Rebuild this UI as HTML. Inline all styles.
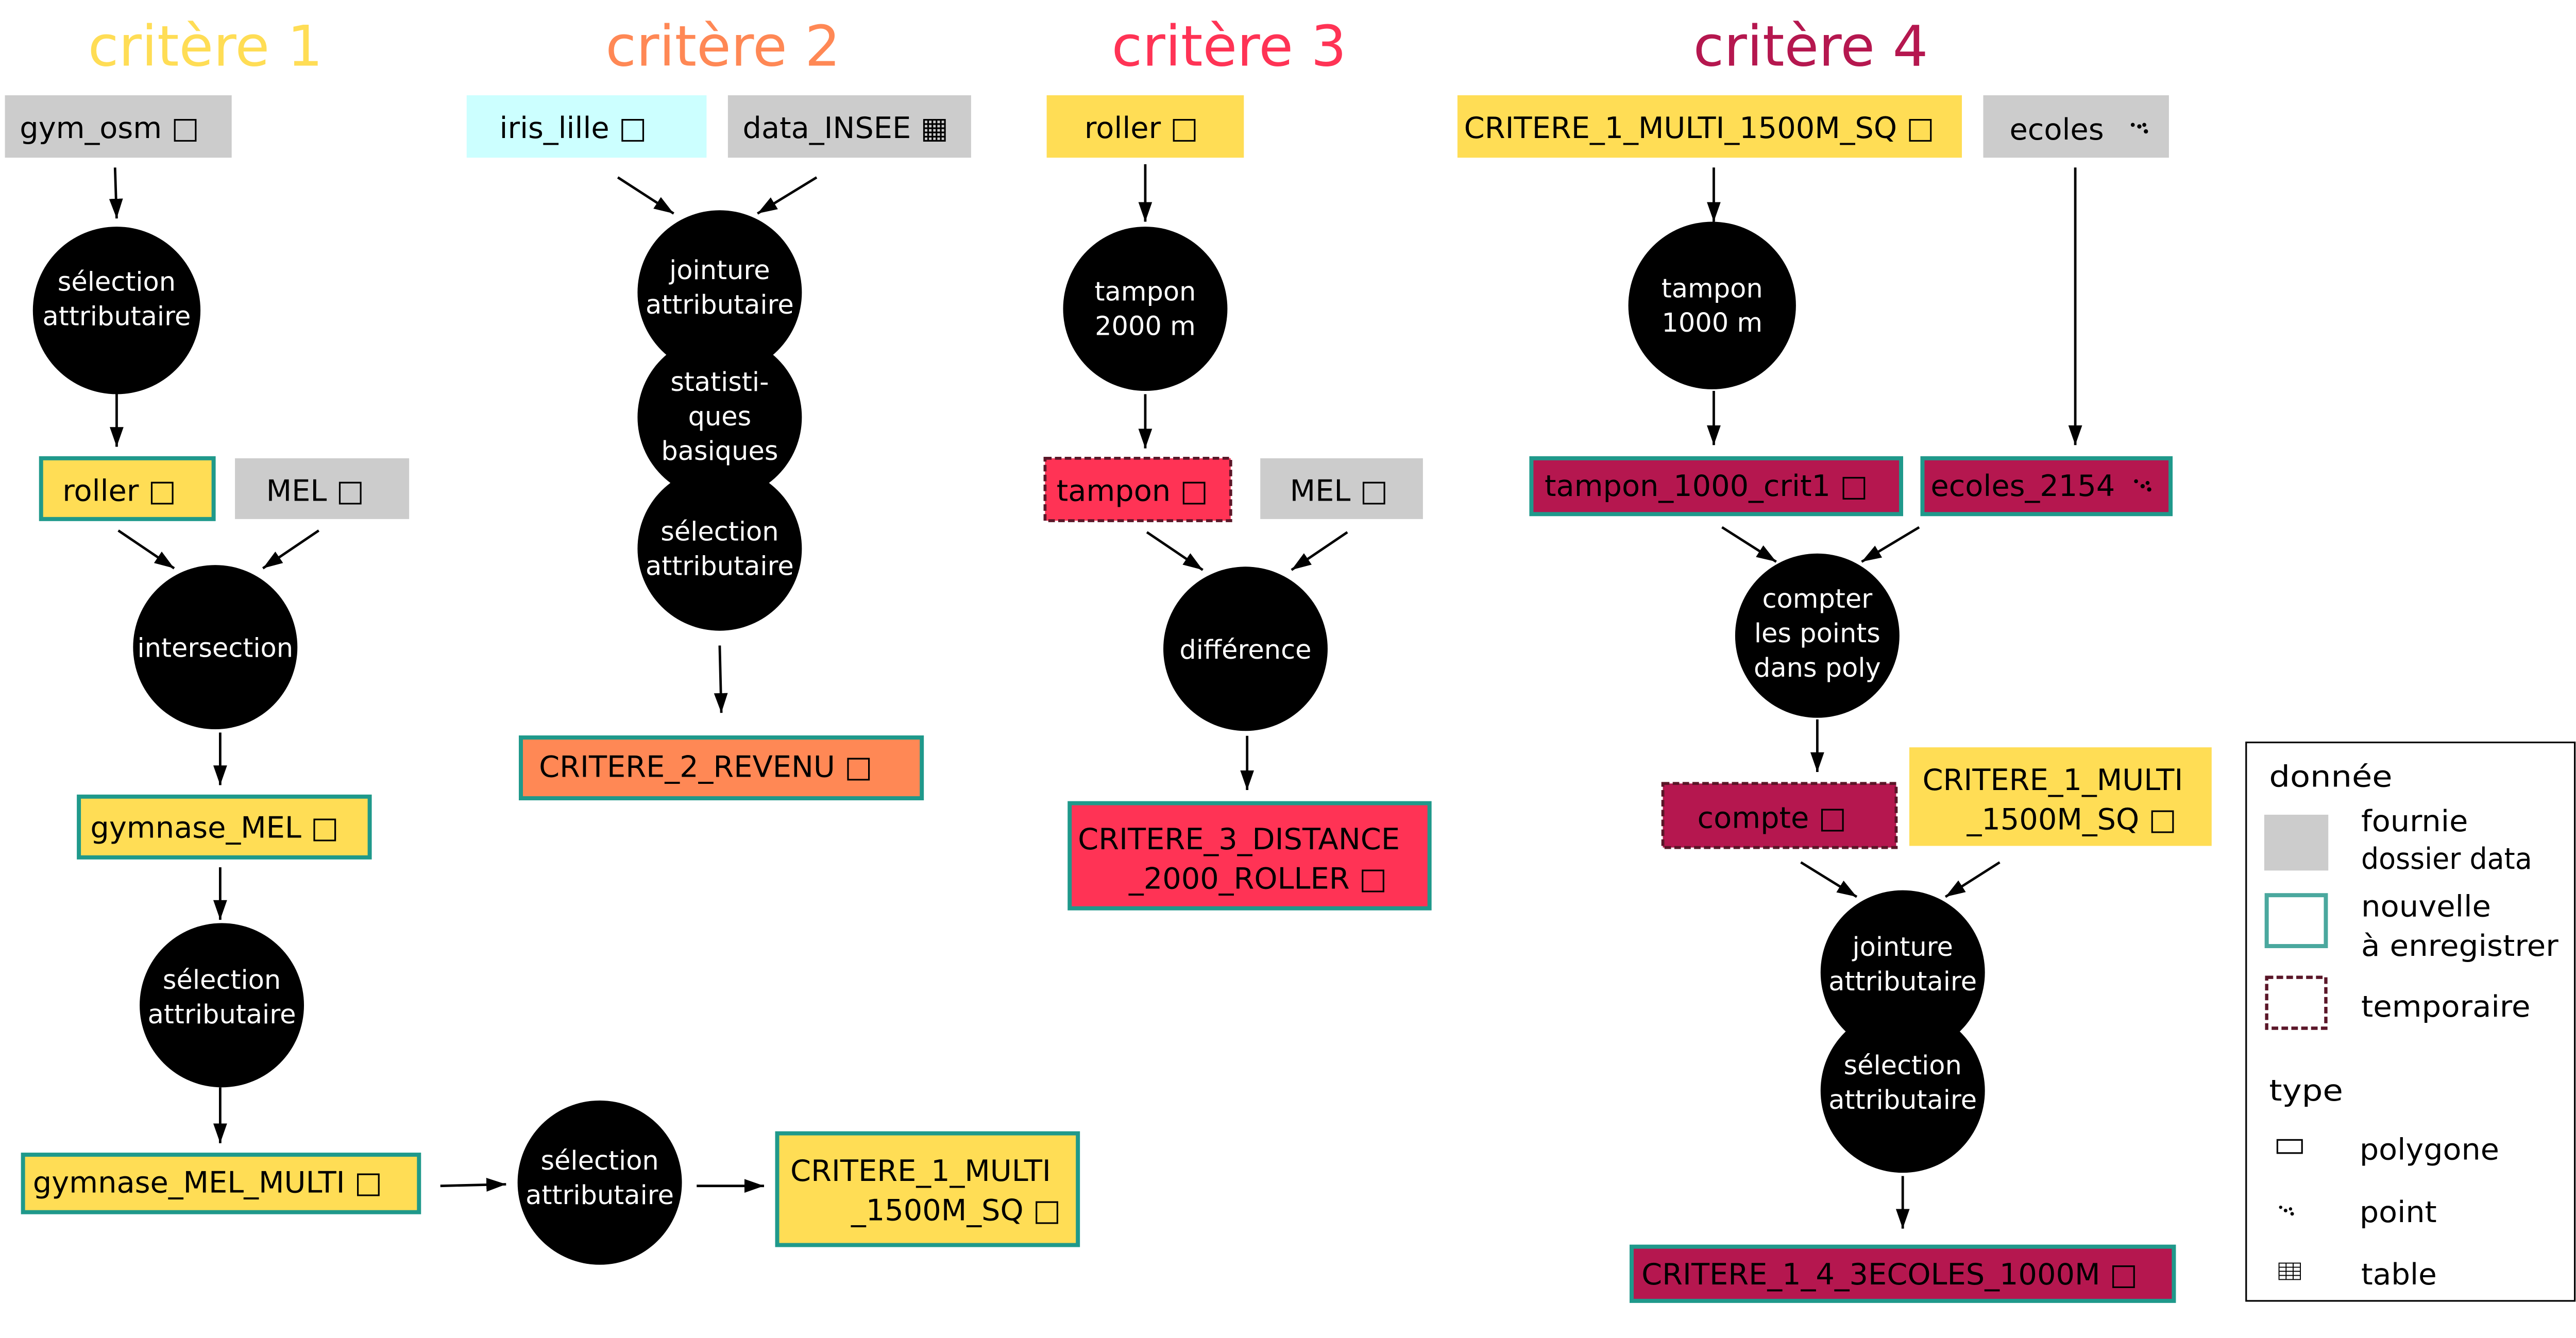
<!DOCTYPE html>
<html><head><meta charset="utf-8"><style>
html,body{margin:0;padding:0;background:#fff;overflow:hidden;}
svg{display:block;}
text{font-family:"DejaVu Sans","Liberation Sans",sans-serif;}
</style></head><body>
<svg width="5087" height="2598" viewBox="0 0 1595 814.6" preserveAspectRatio="xMinYMin meet" xmlns="http://www.w3.org/2000/svg">
<defs>
<marker id="ar" viewBox="0 0 10 10" refX="10" refY="5" markerWidth="12" markerHeight="12" orient="auto" markerUnits="userSpaceOnUse"><path d="M0,1.5 L10,5 L0,8.5 z" fill="#000"/></marker>
</defs>
<rect width="1595" height="815" fill="#fff"/>
<g font-size="34" text-anchor="middle">
<text x="125" y="40" fill="#ffdd55">critère 1</text>
<text x="440" y="40" fill="#ff8855">critère 2</text>
<text x="748" y="40" fill="#ff3355">critère 3</text>
<text x="1102" y="40" fill="#b5174f">critère 4</text>
</g>
<g stroke="#000" stroke-width="1.5" marker-end="url(#ar)">
<line x1="70" y1="102" x2="71" y2="133"/>
<line x1="71" y1="238" x2="71" y2="272"/>
<line x1="72" y1="323" x2="106" y2="346"/>
<line x1="194" y1="323" x2="160" y2="346"/>
<line x1="134" y1="446" x2="134" y2="478"/>
<line x1="134" y1="528" x2="134" y2="560"/>
<line x1="134" y1="662" x2="134" y2="696"/>
<line x1="268" y1="722" x2="308" y2="721"/>
<line x1="424" y1="722" x2="465" y2="722"/>
<line x1="376" y1="108" x2="410" y2="130"/>
<line x1="497" y1="108" x2="461" y2="130"/>
<line x1="438" y1="393" x2="439" y2="434"/>
<line x1="697" y1="100" x2="697" y2="135"/>
<line x1="697" y1="240" x2="697" y2="273"/>
<line x1="698" y1="324" x2="732" y2="347"/>
<line x1="820" y1="324" x2="786" y2="347"/>
<line x1="759" y1="448" x2="759" y2="481"/>
<line x1="1043" y1="102" x2="1043" y2="135"/>
<line x1="1043" y1="238" x2="1043" y2="271"/>
<line x1="1263" y1="102" x2="1263" y2="271"/>
<line x1="1048" y1="321" x2="1081" y2="342"/>
<line x1="1168" y1="321" x2="1133" y2="342"/>
<line x1="1106" y1="438" x2="1106" y2="470"/>
<line x1="1096" y1="525" x2="1130" y2="546"/>
<line x1="1217" y1="525" x2="1184" y2="546"/>
<line x1="1158" y1="716" x2="1158" y2="748"/>
</g>
<g fill="#000">
<circle cx="71" cy="189" r="51"/>
<circle cx="131" cy="394" r="50"/>
<circle cx="135" cy="612" r="50"/>
<circle cx="365" cy="720" r="50"/>
<circle cx="438" cy="178" r="50"/>
<circle cx="438" cy="254" r="50"/>
<circle cx="438" cy="334" r="50"/>
<circle cx="697" cy="188" r="50"/>
<circle cx="758" cy="395" r="50"/>
<circle cx="1042" cy="186" r="51"/>
<circle cx="1106" cy="387" r="50"/>
<circle cx="1158" cy="592" r="50"/>
<circle cx="1158" cy="664" r="50"/>
</g>
<g fill="#fff" font-size="16" text-anchor="middle">
<text x="71" y="177">sélection</text><text x="71" y="198">attributaire</text>
<text x="131" y="400">intersection</text>
<text x="135" y="602">sélection</text><text x="135" y="623">attributaire</text>
<text x="365" y="712">sélection</text><text x="365" y="733">attributaire</text>
<text x="438" y="170">jointure</text><text x="438" y="191">attributaire</text>
<text x="438" y="238">statisti-</text><text x="438" y="259">ques</text><text x="438" y="280">basiques</text>
<text x="438" y="329">sélection</text><text x="438" y="350">attributaire</text>
<text x="697" y="183">tampon</text><text x="697" y="204">2000 m</text>
<text x="758" y="401">différence</text>
<text x="1042" y="181">tampon</text><text x="1042" y="202">1000 m</text>
<text x="1106" y="370">compter</text><text x="1106" y="391">les points</text><text x="1106" y="412">dans poly</text>
<text x="1158" y="582">jointure</text><text x="1158" y="603">attributaire</text>
<text x="1158" y="654">sélection</text><text x="1158" y="675">attributaire</text>
</g>
<g stroke-width="2.5">
<rect x="3" y="58" width="138" height="38" fill="#cccccc"/>
<rect x="25" y="279" width="105" height="37" fill="#ffdd55" stroke="#1f998b"/>
<rect x="143" y="279" width="106" height="37" fill="#cccccc"/>
<rect x="48" y="485" width="177" height="37" fill="#ffdd55" stroke="#1f998b"/>
<rect x="14" y="703" width="241" height="35" fill="#ffdd55" stroke="#1f998b"/>
<rect x="473" y="690" width="183" height="68" fill="#ffdd55" stroke="#1f998b"/>
<rect x="284" y="58" width="146" height="38" fill="#ccffff"/>
<rect x="443" y="58" width="148" height="38" fill="#cccccc"/>
<rect x="317" y="449" width="244" height="37" fill="#ff8855" stroke="#1f998b"/>
<rect x="637" y="58" width="120" height="38" fill="#ffdd55"/>
<rect x="636" y="279" width="113" height="38" fill="#ff3355" stroke="#5a1628" stroke-width="1.8" stroke-dasharray="4 2"/>
<rect x="767" y="279" width="99" height="37" fill="#cccccc"/>
<rect x="651" y="489" width="219" height="64" fill="#ff3355" stroke="#1f998b"/>
<rect x="887" y="58" width="307" height="38" fill="#ffdd55"/>
<rect x="1207" y="58" width="113" height="38" fill="#cccccc"/>
<rect x="932" y="279" width="225" height="34" fill="#b5174f" stroke="#1f998b"/>
<rect x="1170" y="279" width="151" height="34" fill="#b5174f" stroke="#1f998b"/>
<rect x="1012" y="477" width="142" height="39" fill="#b5174f" stroke="#5a1628" stroke-width="1.8" stroke-dasharray="4 2"/>
<rect x="1162" y="455" width="184" height="60" fill="#ffdd55"/>
<rect x="993" y="759" width="330" height="33" fill="#b5174f" stroke="#1f998b"/>
</g>
<g font-size="18" fill="#000">
<text x="12" y="84">gym_osm  □</text>
<text x="38" y="305">roller  □</text>
<text x="162" y="305">MEL  □</text>
<text x="55" y="510">gymnase_MEL  □</text>
<text x="20" y="726">gymnase_MEL_MULTI  □</text>
<text x="481" y="719">CRITERE_1_MULTI</text><text x="518" y="743">_1500M_SQ  □</text>
<text x="304" y="84">iris_lille  □</text>
<text x="452" y="84">data_INSEE ▦</text>
<text x="328" y="473">CRITERE_2_REVENU  □</text>
<text x="660" y="84">roller  □</text>
<text x="643" y="305">tampon □</text>
<text x="785" y="305">MEL  □</text>
<text x="656" y="517">CRITERE_3_DISTANCE</text><text x="687" y="541">_2000_ROLLER  □</text>
<text x="891" y="84">CRITERE_1_MULTI_1500M_SQ □</text>
<text x="1223" y="85">ecoles</text>
<text x="940" y="302">tampon_1000_crit1 □</text>
<text x="1175" y="302">ecoles_2154</text>
<text x="1033" y="504">compte  □</text>
<text x="1170" y="481">CRITERE_1_MULTI</text><text x="1197" y="505">_1500M_SQ  □</text>
<text x="999" y="782">CRITERE_1_4_3ECOLES_1000M □</text>
</g>
<g fill="#000">
<circle cx="1298" cy="76" r="1.2"/><circle cx="1302" cy="77" r="1.3"/><circle cx="1305" cy="76" r="1.2"/><circle cx="1306" cy="80" r="1.3"/>
<circle cx="1300" cy="293" r="1.2"/><circle cx="1304" cy="296" r="1.3"/><circle cx="1307" cy="294" r="1.2"/><circle cx="1308" cy="298" r="1.3"/>
</g>
<rect x="1367" y="452" width="200" height="340" fill="#fff" stroke="#000" stroke-width="1"/>
<g font-size="18" fill="#000">
<text x="1381" y="479" textLength="75" lengthAdjust="spacingAndGlyphs">donnée</text>
<text x="1437" y="506" textLength="65" lengthAdjust="spacingAndGlyphs">fournie</text>
<text x="1437" y="529" textLength="104" lengthAdjust="spacingAndGlyphs">dossier data</text>
<text x="1437" y="558" textLength="79" lengthAdjust="spacingAndGlyphs">nouvelle</text>
<text x="1437" y="582" textLength="120" lengthAdjust="spacingAndGlyphs">à enregistrer</text>
<text x="1437" y="619" textLength="103" lengthAdjust="spacingAndGlyphs">temporaire</text>
<text x="1381" y="670" textLength="45" lengthAdjust="spacingAndGlyphs">type</text>
<text x="1436" y="706" textLength="85" lengthAdjust="spacingAndGlyphs">polygone</text>
<text x="1436" y="744" textLength="47" lengthAdjust="spacingAndGlyphs">point</text>
<text x="1437" y="782" textLength="46" lengthAdjust="spacingAndGlyphs">table</text>
</g>
<rect x="1378" y="496" width="39" height="34" fill="#cccccc"/>
<rect x="1379.5" y="545" width="36" height="31" fill="none" stroke="#4aa89e" stroke-width="2.5"/>
<rect x="1379.5" y="595" width="36" height="31" fill="none" stroke="#5a1628" stroke-width="2" stroke-dasharray="4 2"/>
<rect x="1386" y="694" width="15" height="8" fill="none" stroke="#000" stroke-width="1"/>
<g fill="#000"><circle cx="1388" cy="735" r="1"/><circle cx="1391" cy="737" r="1.1"/><circle cx="1394" cy="736" r="1"/><circle cx="1395" cy="739" r="1.1"/></g>
<g stroke="#000" stroke-width="0.6" fill="none">
<rect x="1387" y="769" width="13" height="10"/>
<line x1="1387" y1="771.5" x2="1400" y2="771.5"/><line x1="1387" y1="774" x2="1400" y2="774"/><line x1="1387" y1="776.5" x2="1400" y2="776.5"/>
<line x1="1391.3" y1="769" x2="1391.3" y2="779"/><line x1="1395.6" y1="769" x2="1395.6" y2="779"/>
</g>
</svg>
</body></html>
